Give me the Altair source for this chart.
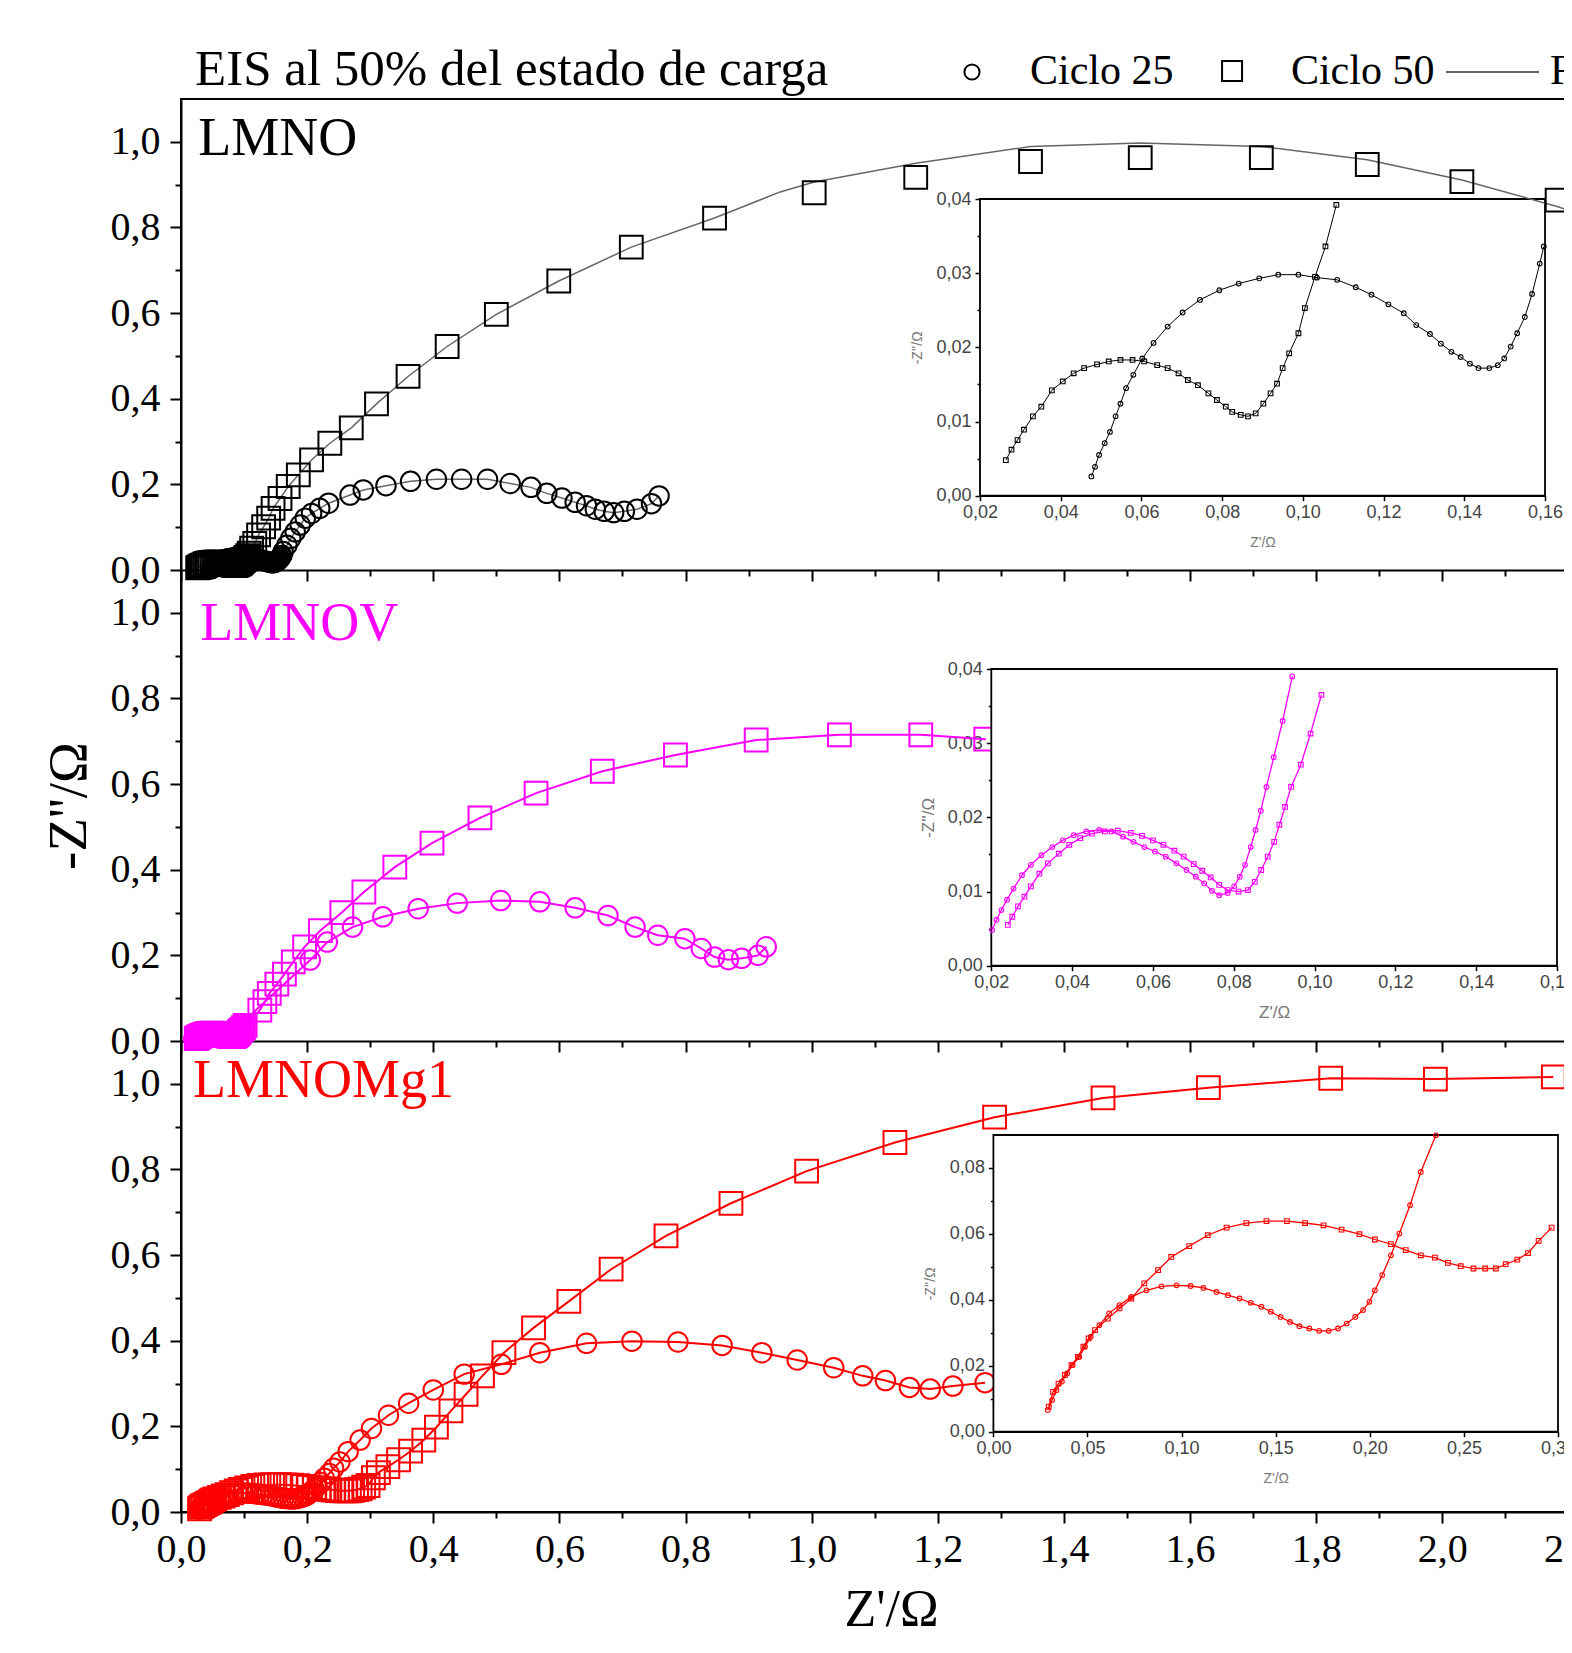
import altair as alt
import pandas as pd

SERIF = "Liberation Serif"
SANS = "Liberation Sans"

# ---------------- data (Z', -Z'') ----------------
LMNO_C25 = [(0.0476,0.0026),(0.0485,0.0039),(0.0495,0.0055),(0.0509,0.0071),(0.0522,0.0086),(0.0536,0.0107),
            (0.0548,0.0124),(0.0562,0.0145),(0.0580,0.0163),(0.0602,0.0185),(0.0630,0.0206),(0.0665,0.0228),
            (0.0702,0.0247),(0.0745,0.0264),(0.0793,0.0277),(0.0841,0.0286),(0.0892,0.0293),(0.0939,0.0298),
            (0.0989,0.0298),(0.1035,0.0294),(0.1085,0.0291),(0.1131,0.0281),(0.1170,0.0271),(0.1212,0.0258),
            (0.1250,0.0246),(0.1281,0.0230),(0.1315,0.0218),(0.1342,0.0205),(0.1368,0.0194),(0.1391,0.0187),
            (0.1414,0.0178),(0.1435,0.0172),(0.1462,0.0172),(0.1483,0.0176),(0.1499,0.0185),(0.1515,0.0201),
            (0.1531,0.0219),(0.1550,0.0241),(0.1568,0.0272),(0.1587,0.0313),(0.1597,0.0336),
            (0.162,0.043),(0.168,0.058),(0.174,0.074),(0.181,0.089),(0.189,0.105),(0.197,0.121),(0.207,0.132),
            (0.220,0.144),(0.234,0.156),(0.268,0.175),(0.289,0.187),(0.325,0.197),(0.364,0.207),(0.405,0.212),
            (0.445,0.212),(0.486,0.212),(0.522,0.202),(0.555,0.193),(0.580,0.179),(0.604,0.168),(0.625,0.158),
            (0.643,0.150),(0.657,0.142),(0.671,0.137),(0.686,0.134),(0.703,0.137),(0.723,0.142),(0.746,0.155),
            (0.758,0.173)]
LMNO_C50 = [(0.0264,0.0048),(0.0278,0.0062),(0.0293,0.0075),(0.0309,0.0089),(0.0331,0.0107),(0.0352,0.0120),
            (0.0378,0.0142),(0.0405,0.0154),(0.0432,0.0165),(0.0458,0.0172),(0.0490,0.0177),(0.0519,0.0181),
            (0.0548,0.0183),(0.0578,0.0183),(0.0607,0.0181),(0.0639,0.0176),(0.0665,0.0172),(0.0692,0.0165),
            (0.0715,0.0156),(0.0740,0.0149),(0.0766,0.0138),(0.0787,0.0129),(0.0809,0.0120),(0.0825,0.0113),
            (0.0846,0.0109),(0.0864,0.0107),(0.0883,0.0111),(0.0902,0.0124),(0.0920,0.0138),(0.0936,0.0151),
            (0.0950,0.0172),(0.0966,0.0192),(0.0989,0.0219),(0.1005,0.0253),(0.1030,0.0295),(0.1056,0.0336),
            (0.1083,0.0392),
            (0.112,0.051),(0.117,0.062),(0.123,0.082),(0.131,0.101),(0.139,0.121),(0.146,0.144),(0.157,0.167),
            (0.170,0.195),(0.186,0.222),(0.207,0.257),(0.236,0.296),(0.270,0.332),(0.310,0.388),(0.360,0.452),
            (0.422,0.522),(0.500,0.597),(0.599,0.675),(0.714,0.754),(0.846,0.822),(1.004,0.881),(1.165,0.917),
            (1.347,0.954),(1.521,0.963),(1.713,0.963),(1.881,0.947),(2.031,0.907),(2.182,0.864)]
LMNO_C50_FIT_TAIL = [(0.950,0.883),(1.004,0.906),(1.165,0.950),(1.347,0.989),(1.521,0.997),(1.713,0.989),
                     (1.881,0.958),(2.031,0.911),(2.182,0.849),(2.200,0.840)]

LMNOV_C25 = [(0.0202,0.0048),(0.0213,0.0062),(0.0225,0.0075),(0.0239,0.0089),(0.0255,0.0104),(0.0276,0.0122),
             (0.0298,0.0136),(0.0324,0.0149),(0.0351,0.0160),(0.0377,0.0169),(0.0404,0.0176),(0.0435,0.0181),
             (0.0467,0.0183),(0.0497,0.0181),(0.0526,0.0174),(0.0552,0.0167),(0.0579,0.0160),(0.0605,0.0154),
             (0.0632,0.0147),(0.0658,0.0138),(0.0683,0.0129),(0.0706,0.0120),(0.0727,0.0111),(0.0746,0.0101),
             (0.0764,0.0095),(0.0785,0.0098),(0.0801,0.0107),(0.0815,0.0120),(0.0828,0.0136),(0.0842,0.0160),
             (0.0854,0.0183),(0.0867,0.0209),(0.0881,0.0241),(0.0899,0.0281),(0.0921,0.0330),(0.0945,0.0390),
             (0.205,0.189),(0.232,0.231),(0.272,0.266),(0.320,0.290),(0.376,0.309),(0.438,0.322),(0.507,0.328),
             (0.569,0.325),(0.625,0.311),(0.677,0.293),(0.720,0.266),(0.756,0.247),(0.799,0.239),(0.825,0.216),
             (0.846,0.196),(0.868,0.190),(0.889,0.193),(0.915,0.200),(0.928,0.220)]
LMNOV_C50 = [(0.0241,0.0055),(0.0252,0.0066),(0.0266,0.0080),(0.0282,0.0093),(0.0298,0.0107),(0.0319,0.0124),
             (0.0340,0.0138),(0.0367,0.0151),(0.0393,0.0163),(0.0420,0.0172),(0.0449,0.0178),(0.0481,0.0181),
             (0.0513,0.0182),(0.0545,0.0179),(0.0573,0.0175),(0.0600,0.0169),(0.0626,0.0163),(0.0653,0.0155),
             (0.0676,0.0147),(0.0701,0.0137),(0.0722,0.0128),(0.0743,0.0119),(0.0764,0.0109),(0.0785,0.0102),
             (0.0812,0.0100),(0.0835,0.0102),(0.0852,0.0113),(0.0868,0.0129),(0.0884,0.0147),(0.0900,0.0167),
             (0.0913,0.0190),(0.0927,0.0214),(0.0942,0.0241),(0.0966,0.0271),(0.0990,0.0313),(0.1017,0.0365),
             (0.125,0.072),(0.133,0.092),(0.140,0.111),(0.152,0.133),(0.164,0.156),(0.178,0.185),(0.196,0.220),
             (0.221,0.258),(0.255,0.300),(0.290,0.348),(0.339,0.406),(0.398,0.462),(0.474,0.521),(0.563,0.579),
             (0.668,0.630),(0.784,0.668),(0.912,0.703),(1.044,0.715),(1.173,0.715),(1.276,0.705)]

MG_C25 = [(0.0289,0.0066),(0.0312,0.0096),(0.0335,0.0126),(0.0364,0.0152),(0.0392,0.0177),(0.0421,0.0202),
          (0.0456,0.0227),(0.0487,0.0258),(0.0517,0.0288),(0.0563,0.0323),(0.0615,0.0359),(0.0670,0.0384),
          (0.0733,0.0409),(0.0813,0.0429),(0.0893,0.0441),(0.0973,0.0444),(0.1048,0.0442),(0.1116,0.0436),
          (0.1185,0.0424),(0.1246,0.0414),(0.1308,0.0404),(0.1367,0.0391),(0.1424,0.0379),(0.1474,0.0364),
          (0.1526,0.0348),(0.1576,0.0333),(0.1626,0.0320),(0.1679,0.0313),(0.1731,0.0306),(0.1781,0.0306),
          (0.1831,0.0313),(0.1877,0.0328),(0.1923,0.0348),(0.1964,0.0369),(0.1998,0.0394),(0.2027,0.0429),
          (0.2066,0.0475),(0.2112,0.0535),(0.2157,0.0601),(0.2214,0.0687),(0.2271,0.0788),(0.2351,0.0899),
          (0.242,0.102),(0.252,0.117),(0.265,0.141),(0.284,0.168),(0.302,0.195),(0.329,0.226),(0.361,0.254),
          (0.400,0.285),(0.449,0.322),(0.508,0.345),(0.569,0.372),(0.643,0.394),(0.715,0.399),(0.788,0.397),
          (0.858,0.389),(0.921,0.372),(0.977,0.355),(1.035,0.337),(1.081,0.318),(1.117,0.307),(1.155,0.291),
          (1.188,0.287),(1.224,0.294),(1.275,0.302)]
MG_C50 = [(0.0294,0.0076),(0.0317,0.0121),(0.0346,0.0146),(0.0380,0.0172),(0.0415,0.0202),(0.0449,0.0227),
          (0.0478,0.0258),(0.0506,0.0283),(0.0540,0.0308),(0.0608,0.0343),(0.0670,0.0374),(0.0733,0.0404),
          (0.0802,0.0450),(0.0875,0.0490),(0.0945,0.0530),(0.1041,0.0563),(0.1139,0.0596),(0.1239,0.0619),
          (0.1344,0.0633),(0.1451,0.0639),(0.1560,0.0639),(0.1656,0.0633),(0.1754,0.0626),(0.1850,0.0613),
          (0.1945,0.0599),(0.2027,0.0583),(0.2112,0.0569),(0.2191,0.0551),(0.2271,0.0535),(0.2346,0.0528),
          (0.2415,0.0512),(0.2483,0.0502),(0.2551,0.0495),(0.2613,0.0495),(0.2670,0.0495),(0.2722,0.0508),
          (0.2784,0.0522),(0.2841,0.0542),(0.2897,0.0579),(0.2966,0.0619),
          (0.305,0.080),(0.313,0.092),(0.328,0.106),(0.345,0.122),(0.364,0.142),(0.385,0.168),(0.405,0.198),
          (0.428,0.236),(0.452,0.275),(0.478,0.318),(0.512,0.372),(0.559,0.430),(0.615,0.492),(0.682,0.567),
          (0.769,0.645),(0.872,0.721),(0.992,0.796),(1.132,0.863),(1.290,0.922),(1.462,0.967),(1.629,0.991),
          (1.823,1.013),(1.989,1.011),(2.176,1.016)]

X_MAJOR = [0.0, 0.2, 0.4, 0.6, 0.8, 1.0, 1.2, 1.4, 1.6, 1.8, 2.0, 2.2]
X_MINOR = [0.1, 0.3, 0.5, 0.7, 0.9, 1.1, 1.3, 1.5, 1.7, 1.9, 2.1]
Y_MAJOR = [0.0, 0.2, 0.4, 0.6, 0.8, 1.0]
Y_MINOR = [0.1, 0.3, 0.5, 0.7, 0.9]
IX_MAJOR = [0.02, 0.04, 0.06, 0.08, 0.10, 0.12, 0.14, 0.16]
IY_MAJOR = [0.0, 0.01, 0.02, 0.03, 0.04]
IY_MINOR = [0.005, 0.015, 0.025, 0.035]
IX3_MAJOR = [0.0, 0.05, 0.10, 0.15, 0.20, 0.25, 0.30]
IY3_MAJOR = [0.0, 0.02, 0.04, 0.06, 0.08]
IY3_MINOR = [0.01, 0.03, 0.05, 0.07]

TITLE = "EIS al 50% del estado de carga"
LEGEND_LABELS = ["Ciclo 25", "Ciclo 50", "Fit"]
PANEL_NAMES = ["LMNO", "LMNOV", "LMNOMg1"]
COLORS = ["black", "#FF00FF", "#FF0000"]

# ---------------- layout ----------------
W = 1419
PH = 471
H = 3 * PH
XS_DOM = [0, 2.25]
YS_DOM = [0, 1.1]


def df_of(pairs):
    return pd.DataFrame({"x": [p[0] for p in pairs], "y": [p[1] for p in pairs],
                         "i": list(range(len(pairs)))})


def comma(fmt):
    return "replace(format(datum.value, '" + fmt + "'), '.', ',')"


ONE = pd.DataFrame({"k": [0]})


def main_scales(p):
    xs = alt.Scale(domain=XS_DOM, range=[0, W], nice=False, zero=False)
    ys = alt.Scale(domain=YS_DOM, range=[PH * (p + 1), PH * p], nice=False, zero=False)
    return xs, ys


def main_axes(p):
    bottom = PH * (p + 1)
    xkw = dict(orient="bottom", offset=bottom - H, values=X_MAJOR, grid=False,
               tickSize=11, tickWidth=2, tickColor="black", domainColor="black", domainWidth=2,
               labels=(p == 2), labelExpr=comma(".1f"), labelFont=SERIF, labelFontSize=40,
               labelColor="black", labelPadding=6, labelFlush=False, labelOverlap=False)
    if p == 2:
        xkw.update(title="Z'/Ω", titleFont=SERIF, titleFontSize=52, titleFontWeight="normal",
                   titleColor="black", titleX=710, titleY=113, titleBaseline="alphabetic",
                   titleAlign="center")
    else:
        xkw.update(title=None)
    ykw = dict(orient="left", values=Y_MAJOR, grid=False, tickSize=11, tickWidth=2,
               tickColor="black", domainColor="black", domainWidth=2, labelExpr=comma(".1f"),
               labelFont=SERIF, labelFontSize=40, labelColor="black", labelPadding=10,
               labelFlush=False, labelOverlap=False)
    if p == 1:
        ykw.update(title="-Z''/Ω", titleFont=SERIF, titleFontSize=55, titleFontWeight="normal",
                   titleColor="black", titleAngle=270, titleX=-113, titleY=706.5,
                   titleBaseline="middle", titleAlign="center")
    else:
        ykw.update(title=None)
    return alt.Axis(**xkw), alt.Axis(**ykw)


def panel(p, c25, c50, c50_line, color, line_color, line_w, label_xy, extra=None):
    xs, ys = main_scales(p)
    xa, ya = main_axes(p)
    X = alt.X("x:Q", scale=xs, axis=xa)
    Y = alt.Y("y:Q", scale=ys, axis=ya)
    layers = [
        alt.Chart(df_of(c25)).mark_line(color=line_color, strokeWidth=line_w).encode(x=X, y=Y, order="i:Q"),
        alt.Chart(df_of(c50_line)).mark_line(color=line_color, strokeWidth=line_w).encode(x=X, y=Y, order="i:Q"),
        alt.Chart(df_of(c25)).mark_point(shape="circle", filled=False, size=380, strokeWidth=2,
                                          color=color, opacity=1).encode(x=X, y=Y),
        alt.Chart(df_of(c50)).mark_point(shape="square", filled=False, size=520, strokeWidth=2,
                                          color=color, opacity=1).encode(x=X, y=Y),
        alt.Chart(ONE).mark_text(text=PANEL_NAMES[p], font=SERIF, fontSize=54, color=color,
                                 align="left", baseline="alphabetic").encode(
            x=alt.XDatum(label_xy[0], type="quantitative", scale=xs, axis=xa),
            y=alt.YDatum(label_xy[1], type="quantitative", scale=ys, axis=ya)),
    ]
    if extra:
        for kind, props, pos in extra:
            enc = dict(x=alt.XDatum(pos[0], type="quantitative", scale=xs, axis=xa),
                       y=alt.YDatum(pos[1], type="quantitative", scale=ys, axis=ya))
            if kind == "text":
                layers.append(alt.Chart(ONE).mark_text(**props).encode(**enc))
            elif kind == "point":
                layers.append(alt.Chart(ONE).mark_point(**props).encode(**enc))
            elif kind == "rule":
                enc["x2"] = alt.X2Datum(pos[2])
                layers.append(alt.Chart(ONE).mark_rule(**props).encode(**enc))
    return alt.layer(*layers)


def panel_minor(p, c25):
    xs, ys = main_scales(p)
    bottom = PH * (p + 1)
    xa = alt.Axis(orient="bottom", offset=bottom - H, values=X_MINOR, grid=False, labels=False,
                  domain=False, tickSize=6, tickWidth=2, tickColor="black", title=None)
    ya = alt.Axis(orient="left", values=Y_MINOR, grid=False, labels=False, domain=False,
                  tickSize=6, tickWidth=2, tickColor="black", title=None)
    return alt.Chart(df_of(c25)).mark_point(opacity=0).encode(
        x=alt.X("x:Q", scale=xs, axis=xa), y=alt.Y("y:Q", scale=ys, axis=ya))


def inset(c25, c50, color, xdom, ydom, box, xvals, yvals, yminor, title_size, line_w=1.3):
    l, r, t, b = box
    xs = alt.Scale(domain=xdom, range=[l, r], nice=False, zero=False)
    ys = alt.Scale(domain=ydom, range=[b, t], nice=False, zero=False)
    xa = alt.Axis(orient="bottom", offset=b - H, values=xvals, grid=False, tickSize=5, tickWidth=1.5,
                  tickColor="black", domainColor="black", domainWidth=1.5, labelExpr=comma(".2f"),
                  labelFont=SANS, labelFontSize=18, labelColor="#444444", labelPadding=3,
                  labelFlush=False, labelOverlap=False, title="Z'/Ω", titleFont=SANS,
                  titleFontSize=title_size, titleFontWeight="normal", titleColor="#777777",
                  titleX=(l + r) / 2, titleY=47, titleBaseline="middle", titleAlign="center")
    ya = alt.Axis(orient="left", offset=-l, values=yvals, grid=False, tickSize=5, tickWidth=1.5,
                  tickColor="black", domainColor="black", domainWidth=1.5, labelExpr=comma(".2f"),
                  labelFont=SANS, labelFontSize=18, labelColor="#444444", labelPadding=4,
                  labelFlush=False, labelOverlap=False, title="-Z''/Ω", titleFont=SANS,
                  titleFontSize=title_size, titleFontWeight="normal", titleColor="#777777",
                  titleAngle=270, titleX=-63, titleY=(t + b) / 2, titleBaseline="middle",
                  titleAlign="center")
    X = alt.X("x:Q", scale=xs, axis=xa)
    Y = alt.Y("y:Q", scale=ys, axis=ya)
    filt = (f"datum.x >= {xdom[0]} && datum.x <= {xdom[1]} && "
            f"datum.y >= {ydom[0]} && datum.y <= {ydom[1]}")
    frame = alt.Chart(ONE).mark_rect(fill="white", stroke="black", strokeWidth=1.8).encode(
        x=alt.XDatum(xdom[0], type="quantitative", scale=xs, axis=xa), x2=alt.X2Datum(xdom[1]),
        y=alt.YDatum(ydom[0], type="quantitative", scale=ys, axis=ya), y2=alt.Y2Datum(ydom[1]))
    layers = [frame]
    for data, shape in ((c25, "circle"), (c50, "square")):
        d = df_of(data)
        layers.append(alt.Chart(d).transform_filter(filt).mark_line(
            color=color, strokeWidth=line_w).encode(x=X, y=Y, order="i:Q"))
        layers.append(alt.Chart(d).transform_filter(filt).mark_point(
            shape=shape, filled=False, size=22, strokeWidth=1.1, color=color, opacity=1).encode(x=X, y=Y))
    main = alt.layer(*layers)
    yam = alt.Axis(orient="left", offset=-l, values=yminor, grid=False, labels=False, domain=False,
                   tickSize=3, tickWidth=1.5, tickColor="black", title=None)
    minor = alt.Chart(df_of(c25)).transform_filter(filt).mark_point(opacity=0).encode(
        x=alt.X("x:Q", scale=xs, axis=None), y=alt.Y("y:Q", scale=ys, axis=yam))
    return main, minor


# title + legend (in panel-1 data coordinates, above the plot)
EXTRA1 = [
    ("text", dict(text=TITLE, font=SERIF, fontSize=51, color="black", align="left",
                  baseline="alphabetic"), (0.0222, 1.1327)),
    ("point", dict(shape="circle", filled=False, size=230, strokeWidth=2, color="black", opacity=1),
     (1.2542, 1.1631)),
    ("text", dict(text=LEGEND_LABELS[0], font=SERIF, fontSize=42, color="black", align="left",
                  baseline="alphabetic"), (1.3462, 1.1350)),
    ("point", dict(shape="square", filled=False, size=400, strokeWidth=2, color="black", opacity=1),
     (1.6666, 1.1654)),
    ("text", dict(text=LEGEND_LABELS[1], font=SERIF, fontSize=42, color="black", align="left",
                  baseline="alphabetic"), (1.7599, 1.1350)),
    ("rule", dict(color="#333333", strokeWidth=1.6), (2.0058, 1.1631, 2.1533)),
    ("text", dict(text=LEGEND_LABELS[2], font=SERIF, fontSize=42, color="black", align="left",
                  baseline="alphabetic"), (2.1707, 1.1350)),
]

lmno_line50 = [p for p in LMNO_C50 if p[0] < 0.9] + LMNO_C50_FIT_TAIL

p1 = panel(0, LMNO_C25, LMNO_C50, lmno_line50, COLORS[0], "#666666", 1.5, (0.0273, 0.969), EXTRA1)
p2 = panel(1, LMNOV_C25, LMNOV_C50, LMNOV_C50, COLORS[1], COLORS[1], 2, (0.0306, 0.9365))
p3 = panel(2, MG_C25, MG_C50, MG_C50, COLORS[2], COLORS[2], 2, (0.019, 0.970))

i1, i1m = inset(LMNO_C25, LMNO_C50, "black", [0.02, 0.16], [0, 0.04], (799, 1364, 100, 396.7),
                IX_MAJOR, IY_MAJOR, IY_MINOR, 14, line_w=1.0)
i2, i2m = inset(LMNOV_C25, LMNOV_C50, COLORS[1], [0.02, 0.16], [0, 0.04], (810.3, 1376, 570, 866.7),
                IX_MAJOR, IY_MAJOR, IY_MINOR, 17)
i3, i3m = inset(MG_C25, MG_C50, COLORS[2], [0, 0.30], [0, 0.09], (812.4, 1377, 1036, 1332.7),
                IX3_MAJOR, IY3_MAJOR, IY3_MINOR, 14)

chart = alt.layer(
    i1, i1m, p1, panel_minor(0, LMNO_C25),
    p2, panel_minor(1, LMNOV_C25), i2, i2m,
    p3, panel_minor(2, MG_C25), i3, i3m,
).resolve_scale(x="independent", y="independent").resolve_axis(
    x="independent", y="independent"
).properties(
    width=W, height=H,
    autosize=alt.AutoSizeParams(type="none"),
    padding={"left": 173, "top": 91, "right": -36, "bottom": 126},
    background="white",
).configure_view(stroke="black", strokeWidth=2)

chart.save("out.html", embed_options={"renderer": "svg", "actions": False})
